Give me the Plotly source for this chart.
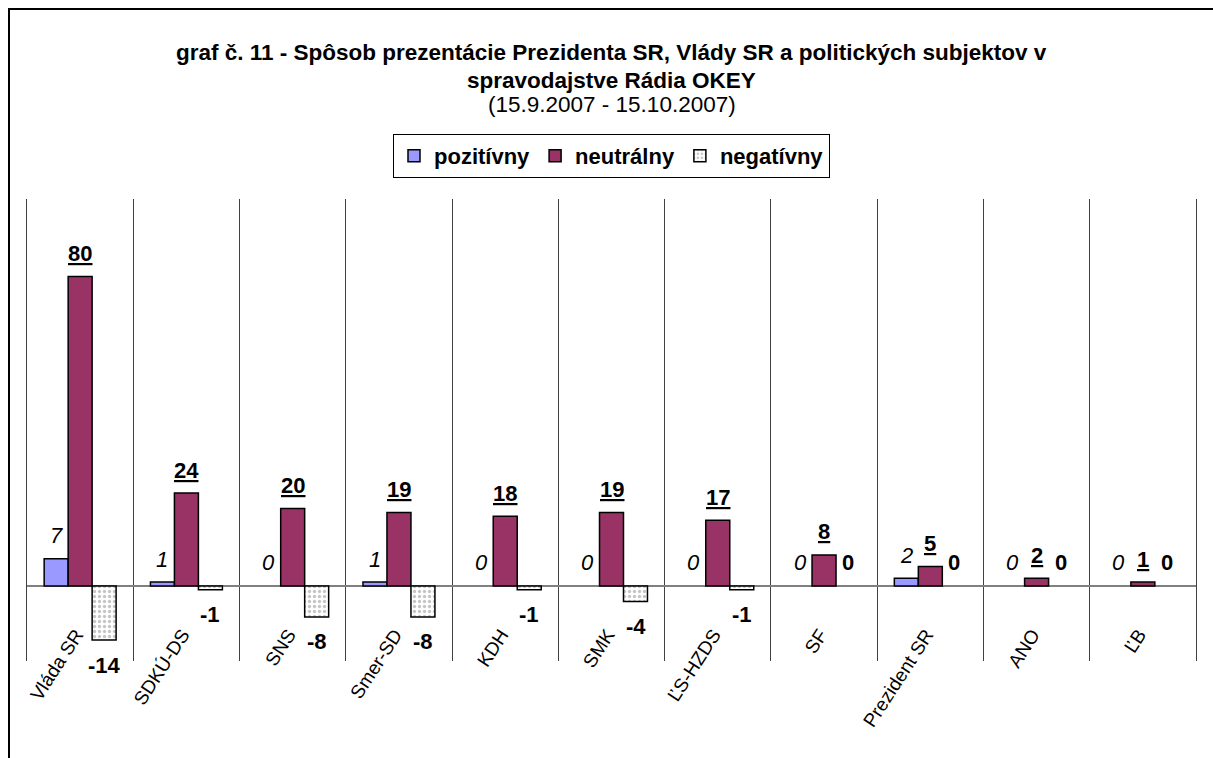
import plotly.graph_objects as go

categories = ["Vláda SR", "SDKÚ-DS", "SNS", "Smer-SD", "KDH", "SMK", "ĽS-HZDS",
              "SF", "Prezident SR", "ANO", "ĽB"]
pozitivny = [7, 1, 0, 1, 0, 0, 0, 0, 2, 0, 0]
neutralny = [80, 24, 20, 19, 18, 19, 17, 8, 5, 2, 1]
negativny = [-14, -1, -8, -8, -1, -4, -1, 0, 0, 0, 0]

series_names = ["pozitívny", "neutrálny", "negatívny"]

W, H = 1213, 758
ML, MR, MT, MB = 27, 17, 199, 97
PH = H - MT - MB
FONT = "Liberation Sans, Arial, sans-serif"


def nz(vals):
    return [v if v != 0 else None for v in vals]


fig = go.Figure()
fig.add_trace(go.Bar(
    x=categories, y=nz(pozitivny), name=series_names[0],
    marker=dict(color="#9999FF", line=dict(color="#000000", width=1.5)),
))
fig.add_trace(go.Bar(
    x=categories, y=nz(neutralny), name=series_names[1],
    marker=dict(color="#993366", line=dict(color="#000000", width=1.5)),
))
fig.add_trace(go.Bar(
    x=categories, y=nz(negativny), name=series_names[2],
    marker=dict(color="#FFFFFF", line=dict(color="#000000", width=1.5),
                pattern=dict(shape=".", fgcolor="#8c8c8c", bgcolor="#FFFFFF",
                             size=5, solidity=0.35)),
))

# data labels
annotations = []
bar_px = 24
fmt = [lambda v: f"<i>{v}</i>", lambda v: f"<b><u>{v}</u></b>", lambda v: f"<b>{v}</b>"]
for s, vals in enumerate([pozitivny, neutralny, negativny]):
    for c, v in zip(categories, vals):
        annotations.append(dict(
            x=c, y=v, xref="x", yref="y", text=fmt[s](v), showarrow=False,
            xshift=(s - 1) * bar_px, yshift=23 if v >= 0 else -25,
            xanchor="center", yanchor="middle",
            font=dict(family=FONT, size=22, color="#000000"),
        ))


def py(px):
    return (H - MB - px) / PH


title_lines = [
    ("<b>graf č. 11 - Spôsob prezentácie Prezidenta SR, Vlády SR a politických subjektov v</b>", 53),
    ("<b>spravodajstve Rádia OKEY</b>", 80),
    ("(15.9.2007 - 15.10.2007)", 105),
]
for t, ypx in title_lines:
    annotations.append(dict(
        x=0.5, y=py(ypx), xref="paper", yref="paper", text=t, showarrow=False,
        xanchor="center", yanchor="middle",
        font=dict(family=FONT, size=22.5, color="#000000"),
    ))

fig.update_layout(
    width=W, height=H, autosize=False,
    margin=dict(l=ML, r=MR, t=MT, b=MB, pad=0),
    paper_bgcolor="#FFFFFF", plot_bgcolor="#FFFFFF",
    barmode="group", bargap=0.323, bargroupgap=0,
    font=dict(family=FONT, size=14, color="#000000"),
    showlegend=True,
    legend=dict(orientation="h", x=0.5, xanchor="center", y=py(134), yanchor="top",
                bordercolor="#000000", borderwidth=1, bgcolor="#FFFFFF",
                font=dict(family=FONT, size=22, color="#000000", weight="bold"),
                traceorder="normal", itemwidth=30, tracegroupgap=0),
    annotations=annotations,
    shapes=[dict(type="rect", xref="paper", yref="paper",
                 x0=(9 - ML) / (W - ML - MR), x1=(W + 20 - ML) / (W - ML - MR),
                 y0=py(H + 20), y1=py(9),
                 line=dict(color="#000000", width=2), fillcolor="rgba(0,0,0,0)",
                 layer="above")],
)

zero_frac = py(586)
fig.update_xaxes(
    type="category", range=[-0.5, len(categories) - 0.5],
    tickson="boundaries", showgrid=True, gridcolor="#404040", gridwidth=1,
    showline=False, ticks="", tickangle=-57,
    anchor="free", position=zero_frac, ticklabelstandoff=33, ticklabelshift=-4,
    tickfont=dict(family=FONT, size=19, color="#000000"),
    zeroline=False,
)
fig.update_yaxes(
    range=[-19.4, 100], showgrid=False, showticklabels=False, ticks="",
    showline=True, linecolor="#404040", linewidth=1, mirror=True,
    zeroline=True, zerolinecolor="#808080", zerolinewidth=1.5,
)

fig.write_html("out.html", config={"displayModeBar": False},
               post_script="document.body.style.margin='0px';")
